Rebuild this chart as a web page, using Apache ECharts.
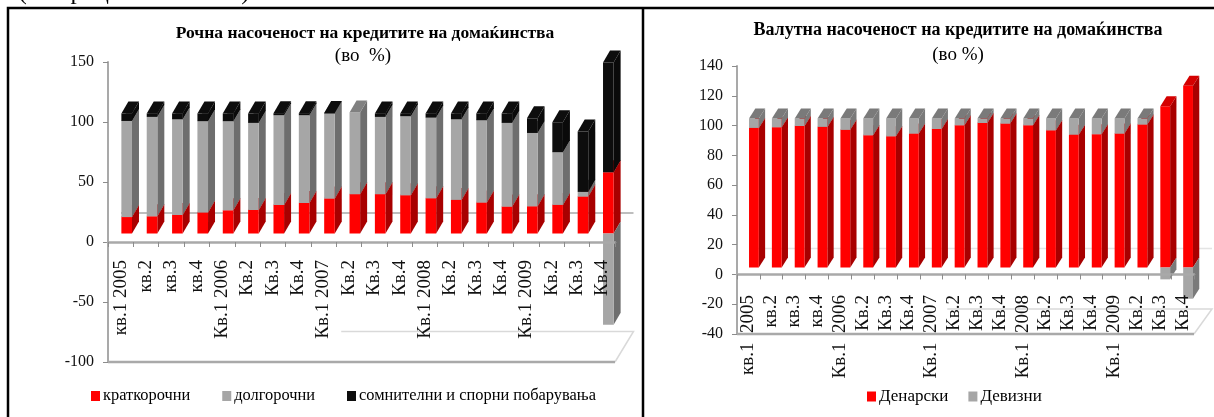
<!DOCTYPE html>
<html><head><meta charset="utf-8">
<style>html,body{margin:0;padding:0;background:#fff}#c{width:1214px;height:417px}</style>
<script src="https://cdn.jsdelivr.net/npm/echarts@6/dist/echarts.min.js"></script>
</head><body><div id="c"></div>
<script>
const FONT='"Liberation Serif","Times New Roman",serif';
const catsL=['кв.1 2005','кв.2','кв.3','кв.4','Кв.1 2006','Кв.2','Кв.3','Кв.4','Кв.1 2007','Кв.2','Кв.3','Кв.4','Кв.1 2008','Кв.2','Кв.3','Кв.4','Кв.1 2009','Кв.2','Кв.3','Кв.4'];
const G='\u00a0\u00a0';
const catsR=['кв.1'+G+'2005','кв.2','кв.3','кв.4','Кв.1'+G+'2006','Кв.2','Кв.3','Кв.4','Кв.1'+G+'2007','Кв.2','Кв.3','Кв.4','Кв.1'+G+'2008','Кв.2','Кв.3','Кв.4','Кв.1'+G+'2009','Кв.2','Кв.3','Кв.4'];
const shortTerm=[13.7,14.3,15.4,17.6,19.3,19.6,23.8,25.5,29.1,32.8,32.8,31.9,29.4,28,25.8,22.4,22.7,23.8,30.8,51];
const longTerm=[80.1,82.9,79.8,76,74.3,72.6,74.8,73.1,70.9,68,64.4,65.9,67.2,67.2,68.6,69.8,61.1,44,3.9,-76];
const doubtful=[6.2,2.8,4.8,6.4,6.4,7.8,1.6,1.6,0.5,0,2.8,2.2,3.4,4.8,5.6,7.8,12.2,24.9,50.3,91.6];
const denar=[93.7,94.2,95,94.4,92.4,88.8,88.1,89.9,93,95.5,97,96.6,95.5,92.1,89.2,89.5,89.9,96,108.3,122];
const foreign=[6.3,5.8,5,5.6,7.6,11.2,11.9,10.1,7,4.5,3,3.4,4.5,7.9,10.8,10.5,10.1,4,-8,-21];

const COL={red:['#ff0000','#a80000','#d40000'],gray:['#a6a6a6','#6e6e6e','#808080'],black:['#0d0d0d','#0a0a0a','#0d0d0d'],grayR:['#a6a6a6','#7a7a7a','#7a7a7a']};
const P={L:{shift:6,lift:8.5,barW:10.6,dx:7,dy:12,wallLift:29,floorDx:18.5,floorDy:30.5,floorFrom:0.46,wallCol:'#a9a9a9',wallW:1.5},
         R:{shift:5.5,lift:7,barW:9.8,dx:6.3,dy:10,wallLift:26,floorDx:18,floorDy:25,floorFrom:0.46,wallCol:'#e4e4e4',wallW:1.5}};

function stacks(arrs){
  const pos=arrs[0].map(()=>0),neg=arrs[0].map(()=>0);
  return arrs.map(a=>a.map((v,i)=>{
    if(v<0){const s=neg[i];neg[i]+=v;return [i,s,neg[i]];}
    const s=pos[i];pos[i]+=v;return [i,s,pos[i]];
  }));
}
function barRender(p,cols){
  return function(params,api){
    const i=api.value(0),a=api.value(1),b=api.value(2);
    if(a===b) return {type:'group',children:[]};
    const ca=api.coord([i,a]),cb=api.coord([i,b]);
    const x0=ca[0]+p.shift-p.barW/2,x1=x0+p.barW;
    const y0=ca[1]-p.lift,y1=cb[1]-p.lift;
    const top=Math.min(y0,y1),bot=Math.max(y0,y1);
    const kids=[
      {type:'polygon',shape:{points:[[x1,top],[x1+p.dx,top-p.dy],[x1+p.dx,bot-p.dy],[x1,bot]]},style:{fill:cols[1]}},
      {type:'rect',shape:{x:x0,y:top,width:p.barW,height:bot-top},style:{fill:cols[0]}}
    ];
    if(b>a) kids.push({type:'polygon',shape:{points:[[x0,top],[x1,top],[x1+p.dx,top-p.dy],[x0+p.dx,top-p.dy]]},style:{fill:cols[2]}});
    return {type:'group',children:kids};
  };
}
function stageRender(p,minV){
  return function(params,api){
    const z=api.coord([0,0]),e=api.coord([19,0]),m=api.coord([0,minV]);
    const band=api.size([1,0])[0];
    const xL=z[0]-band/2,xR=e[0]+band/2,yB=m[1];
    const fx=xL+(xR-xL)*p.floorFrom;
    return {type:'group',children:[
      {type:'polyline',shape:{points:[[fx,yB-p.floorDy],[xR+p.floorDx,yB-p.floorDy],[xR,yB]]},style:{fill:'none',stroke:'#d9d9d9',lineWidth:1.5}},
      {type:'line',shape:{x1:xL,y1:yB,x2:xR,y2:yB},style:{stroke:'#a9a9a9',lineWidth:2.5}},
      {type:'line',shape:{x1:xL+p.dx+6,y1:z[1]-p.wallLift,x2:xR+p.floorDx,y2:z[1]-p.wallLift},style:{stroke:p.wallCol,lineWidth:p.wallW}}
    ]};
  };
}
const [sRed,sGray,sBlack]=stacks([shortTerm,longTerm,doubtful]);
const [sDen,sFor]=stacks([denar,foreign]);
function cust(name,data,idx,render,color,z){
  return {type:'custom',name,data,xAxisIndex:idx,yAxisIndex:idx,renderItem:render,z,clip:false,
    itemStyle:{color},encode:{x:0,y:[1,2]},silent:true,animation:false};
}
const xa=(cats,idx,margin)=>({type:'category',gridIndex:idx,data:cats,z:5,
  axisLine:{onZero:true,lineStyle:{color:'#a9a9a9',width:2.5}},
  axisTick:{show:true,length:5,alignWithLabel:false,lineStyle:{color:'#8c8c8c',width:1}},
  axisLabel:{interval:0,rotate:90,margin,color:'#111',fontFamily:FONT,fontSize:19,padding:[0,0,3,0]},splitLine:{show:false}});
const ya=(idx,min,max,interval)=>({type:'value',gridIndex:idx,min,max,interval,
  axisLine:{show:true,lineStyle:{color:'#a9a9a9',width:2}},
  axisTick:{show:true,length:5,lineStyle:{color:'#8c8c8c',width:1}},
  axisLabel:{margin:14,color:'#111',fontFamily:FONT,fontSize:16},splitLine:{show:false}});
const ttl=(text,x,y,size,bold)=>({text,left:x,top:y,textAlign:'center',padding:0,
  textStyle:{fontFamily:FONT,fontSize:size,fontWeight:bold?'bold':'normal',color:'#000'}});
const leg=(data,left,top,gap,size)=>({data,left,top,orient:'horizontal',itemWidth:9,itemHeight:10,itemGap:gap,icon:'rect',
  selectedMode:false,padding:0,textStyle:{fontFamily:FONT,fontSize:size,color:'#000',padding:[0,0,0,-2]}});

const option={animation:false,backgroundColor:'#fff',
  title:[ttl('(во процентни поени)',134,-20,25,false),
    ttl('Рочна насоченост на кредитите на домаќинства',365,24,17.5,true),
    ttl('(во  %)',363,47,19,false),
    ttl('Валутна насоченост на кредитите на домаќинства',958,21,18,true),
    ttl('(во %)',958,46,19,false)],
  legend:[leg(['краткорочни','долгорочни','сомнителни и спорни побарувања'],91,388,32,16.4),
          leg(['Денарски','Девизни'],867,388,20,17)],
  grid:[{left:108,top:62,width:507,height:300,outerBoundsMode:'none'},{left:737,top:66,width:457,height:268,outerBoundsMode:'none'}],
  xAxis:[xa(catsL,0,19-121),xa(catsR,1,21-60)],
  yAxis:[ya(0,-100,150,50),ya(1,-40,140,20)],
  series:[
    {type:'custom',name:'stageL',data:[[0,0]],xAxisIndex:0,yAxisIndex:0,renderItem:stageRender(P.L,-100),z:1,clip:false,silent:true},
    {type:'custom',name:'stageR',data:[[0,0]],xAxisIndex:1,yAxisIndex:1,renderItem:stageRender(P.R,-40),z:1,clip:false,silent:true},
    cust('краткорочни',sRed,0,barRender(P.L,COL.red),'#ff0000',2),
    cust('долгорочни',sGray,0,barRender(P.L,COL.gray),'#a6a6a6',3),
    cust('сомнителни и спорни побарувања',sBlack,0,barRender(P.L,COL.black),'#0d0d0d',4),
    cust('Денарски',sDen,1,barRender(P.R,COL.red),'#ff0000',2),
    cust('Девизни',sFor,1,barRender(P.R,COL.grayR),'#a6a6a6',3)
  ],
  graphic:[
    {type:'polyline',silent:true,z:10,shape:{points:[[8,417],[8,8],[1214,8]]},style:{fill:'none',stroke:'#000',lineWidth:2.5}},
    {type:'line',silent:true,z:10,shape:{x1:643,y1:8,x2:643,y2:417},style:{stroke:'#000',lineWidth:2.5}}
  ]
};
const chart=echarts.init(document.getElementById('c'),null,{renderer:'canvas'});
chart.setOption(option);
</script></body></html>
